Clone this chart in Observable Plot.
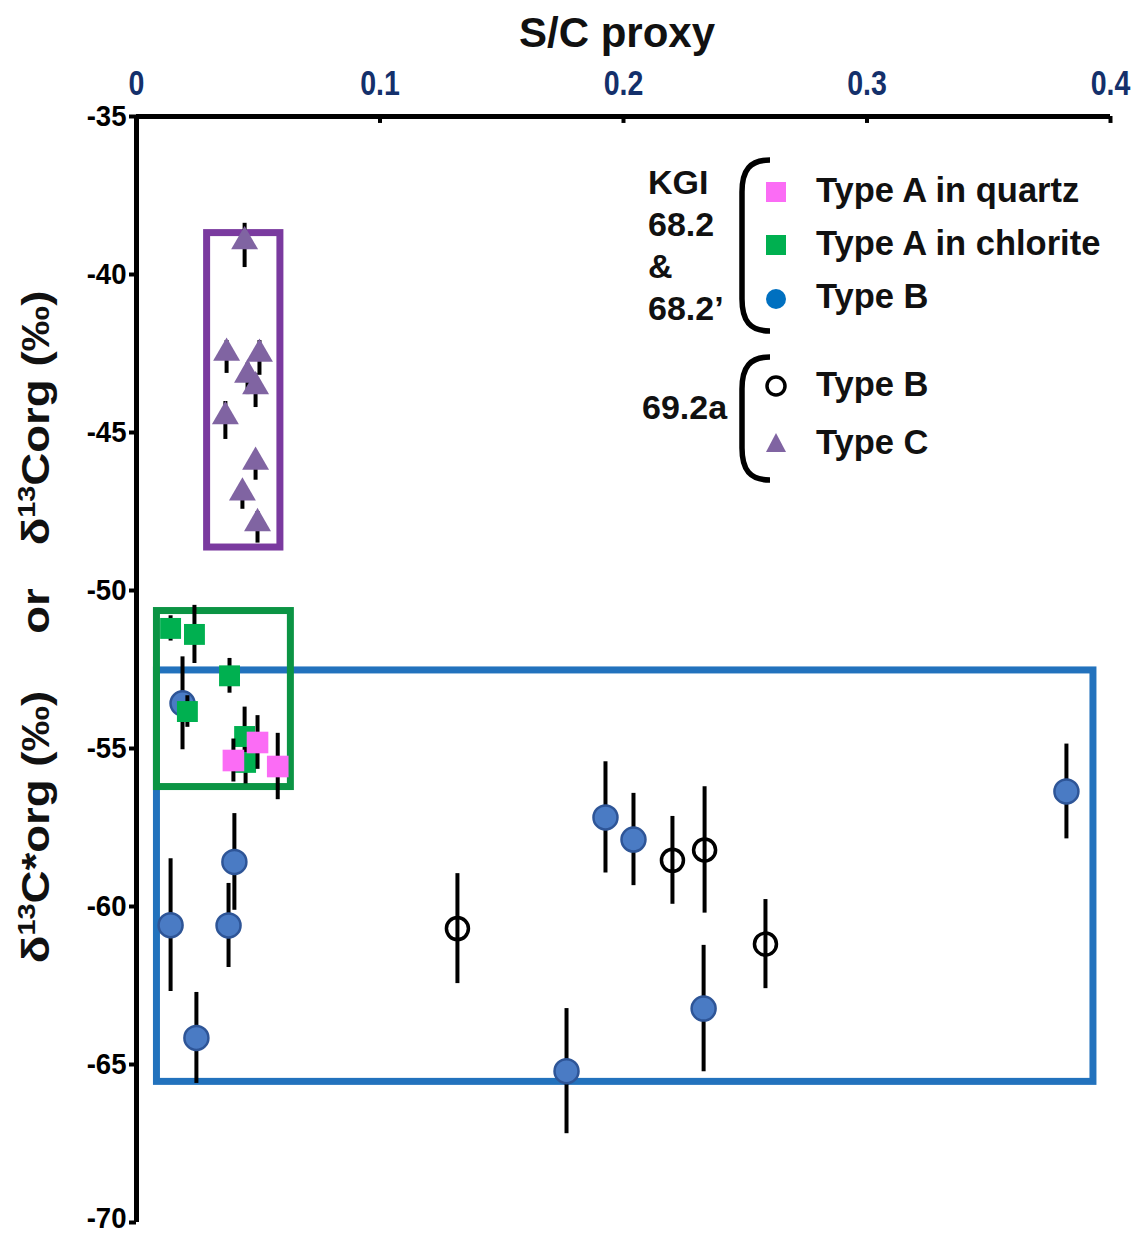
<!DOCTYPE html>
<html><head><meta charset="utf-8">
<script src="https://cdn.jsdelivr.net/npm/d3@7"></script>
<script src="https://cdn.jsdelivr.net/npm/@observablehq/plot@0.6"></script>
<style>
body{margin:0;background:#fff;}
#wrap{position:relative;width:1134px;height:1234px;font-family:"Liberation Sans",Arial,sans-serif;}
#wrap > svg{position:absolute;left:0;top:0;}
</style></head><body><div id="wrap"></div>
<script>
// ---- axis ticks ----
const xTicks = [0, 0.1, 0.2, 0.3, 0.4];
const yTicks = [-35, -40, -45, -50, -55, -60, -65, -70];

// ---- KGI 68.2 & 68.2' : Type B (filled circles) ----
const kgiB_x   = [0.0189, 0.0140, 0.0402, 0.0378, 0.0246, 0.1926, 0.2041, 0.2329, 0.1766, 0.3819];
const kgiB_y   = [-53.57, -60.59, -58.59, -60.60, -64.16, -57.18, -57.88, -63.23, -65.21, -56.36];
const kgiB_err = [1.47, 2.10, 1.53, 1.33, 1.44, 1.76, 1.46, 2.00, 1.98, 1.50];

// ---- KGI : Type A in chlorite (green squares) ----
const chl_x   = [0.0140, 0.0238, 0.0382, 0.0209, 0.0444, 0.0448];
const chl_y   = [-51.20, -51.39, -52.70, -53.83, -54.62, -55.44];
const chl_err = [0.40, 0.92, 0.55, 0.50, 0.93, 0.68];

// ---- KGI : Type A in quartz (pink squares) ----
const qtz_x   = [0.0497, 0.0398, 0.0580];
const qtz_y   = [-54.81, -55.38, -55.57];
const qtz_err = [0.85, 0.68, 1.05];

// ---- 69.2a : Type B (open circles) ----
const b692_x   = [0.1318, 0.2201, 0.2333, 0.2583];
const b692_y   = [-60.70, -58.54, -58.21, -61.19];
const b692_err = [1.74, 1.39, 2.00, 1.41];

// ---- 69.2a : Type C (triangles) ----
const c692_x   = [0.0444, 0.0370, 0.0505, 0.0456, 0.0489, 0.0365, 0.0489, 0.0435, 0.0497];
const c692_y   = [-39.08, -42.61, -42.64, -43.30, -43.67, -44.62, -46.06, -47.03, -48.00];
const c692_err = [0.70, 0.52, 0.55, 0.50, 0.54, 0.60, 0.45, 0.40, 0.50];

// ---- grouping boxes (data coordinates) ----
const boxNames = ["blue", "green", "purple"];
const boxX1 = [0.0084, 0.0084, 0.0290];
const boxX2 = [0.3930, 0.0634, 0.0591];
const boxY1 = [-65.55, -56.22, -48.64];
const boxY2 = [-52.53, -50.65, -38.69];

// ---- legend ----
const legendGroups = ["KGI\n68.2\n&\n68.2\u2019", "69.2a"];
const legendLabels = ["Type A in quartz", "Type A in chlorite", "Type B", "Type B", "Type C"];

const toRows = (xs, ys, es) => xs.map((x, i) => ({x, y: ys[i], lo: ys[i] - es[i], hi: ys[i] + es[i]}));
const kgiB = toRows(kgiB_x, kgiB_y, kgiB_err);
const chl = toRows(chl_x, chl_y, chl_err);
const qtz = toRows(qtz_x, qtz_y, qtz_err);
const b692 = toRows(b692_x, b692_y, b692_err);
const c692 = toRows(c692_x, c692_y, c692_err);
const boxes = boxNames.map((n, i) => ({n, x1: boxX1[i], x2: boxX2[i], y1: boxY1[i], y2: boxY2[i]}));
const boxColor = {blue: "#2272bd", green: "#0b9444", purple: "#7a3a9f"};

const bars = (rows) => Plot.ruleX(rows, {x: "x", y1: "lo", y2: "hi", stroke: "#000", strokeWidth: 4});

const chart = Plot.plot({
  width: 1134, height: 1234,
  marginLeft: 136, marginRight: 24, marginTop: 116, marginBottom: 12,
  x: {domain: [0, 0.4]},
  y: {domain: [-70, -35]},
  style: {fontFamily: "'Liberation Sans', Arial, sans-serif", background: "white", overflow: "visible"},
  marks: [
    Plot.rect(boxes, {x1: "x1", x2: "x2", y1: "y1", y2: "y2", fill: "none",
      stroke: d => boxColor[d.n], strokeWidth: 7}),
    Plot.axisX(xTicks, {anchor: "top", tickSize: 0, tickPadding: 22, fontSize: 31, fontWeight: "bold",
      fill: "#14306b", tickFormat: d => String(d), label: null}),
    Plot.axisY(yTicks, {anchor: "left", tickSize: 7, tickPadding: 3, fontSize: 29, fontWeight: "bold",
      strokeWidth: 4, tickFormat: d => String(d), label: null}),
    Plot.ruleX(xTicks, {x: d => d, y1: -35, y2: -35.22, stroke: "#000", strokeWidth: 4}),
    Plot.ruleX([0], {stroke: "#000", strokeWidth: 5}),
    Plot.ruleY([-35], {stroke: "#000", strokeWidth: 5}),
    bars(kgiB),
    Plot.dot(kgiB, {x: "x", y: "y", r: 12, fill: "#4a7bc4", stroke: "#2e5597", strokeWidth: 2.5}),
    bars(chl),
    Plot.dot(chl, {x: "x", y: "y", symbol: "square", r: 11.8, fill: "#00b050", stroke: "none"}),
    bars(qtz),
    Plot.dot(qtz, {x: "x", y: "y", symbol: "square", r: 12.2, fill: "#fb6cf5", stroke: "none"}),
    bars(b692),
    Plot.dot(b692, {x: "x", y: "y", r: 11, fill: "none", stroke: "#000", strokeWidth: 3.5}),
    bars(c692),
    Plot.dot(c692, {x: "x", y: "y", symbol: "triangle", r: 10, dy: -3.9, fill: "#8064a2", stroke: "none"})
  ]
});

const wrap = document.getElementById("wrap");
wrap.appendChild(chart);

// make tick labels a little taller and narrower, like the reference's condensed bold face
d3.select(chart).selectAll('g[aria-label="x-axis tick label"] text')
  .each(function() {
    const t = this.getAttribute("transform") || "";
    this.setAttribute("transform", t + " scale(0.92,1.15)");
  });
d3.select(chart).selectAll('g[aria-label="y-axis tick label"] text')
  .each(function() {
    const t = this.getAttribute("transform") || "";
    // the lowest label sits on the bottom edge: lift it slightly so it is not clipped
    const lift = this.textContent === String(yTicks[yTicks.length - 1]) ? " translate(0,-4)" : "";
    this.setAttribute("transform", t + lift + " scale(0.95,1.04)");
  });

// ---- overlay: titles and legend ----
const svg = d3.select(wrap).append("svg")
  .attr("width", 1134).attr("height", 1234)
  .style("pointer-events", "none")
  .attr("font-family", "'Liberation Sans', Arial, sans-serif")
  .attr("font-weight", "bold").attr("fill", "#111");

svg.append("text").attr("x", 617).attr("y", 47).attr("text-anchor", "middle")
  .attr("font-size", 42).text("S/C proxy");

// y-axis title, rotated (stretched along its length like the reference)
function deltaLabel(cy, rest) {
  const t = svg.append("text").attr("transform", `translate(49,${cy}) rotate(-90) scale(1.2,1)`)
    .attr("text-anchor", "middle").attr("font-size", 38);
  t.append("tspan").text("\u03b4");
  t.append("tspan").attr("font-size", 24).attr("dy", -14).text("13");
  t.append("tspan").attr("dy", 14).text(rest);
}
deltaLabel(827, "C*org (\u2030)");
svg.append("text").attr("transform", "translate(49,611) rotate(-90) scale(1.2,1)")
  .attr("text-anchor", "middle").attr("font-size", 38).text("or");
deltaLabel(418, "Corg (\u2030)");

// legend group labels
const g1 = svg.append("text").attr("font-size", 34);
legendGroups[0].split("\n").forEach((s, i) => g1.append("tspan").attr("x", 648).attr("y", 194 + i * 42).text(s));
svg.append("text").attr("font-size", 34).attr("x", 642).attr("y", 419).text(legendGroups[1]);

// braces
const brace = (top, bot) => `M770,${top} C750,${top} 742,${top + 10} 742,${top + 32} L742,${bot - 32} C742,${bot - 10} 750,${bot} 770,${bot}`;
svg.append("path").attr("d", brace(160, 331)).attr("fill", "none").attr("stroke", "#000").attr("stroke-width", 5.5);
svg.append("path").attr("d", brace(357, 480)).attr("fill", "none").attr("stroke", "#000").attr("stroke-width", 5.5);

// legend markers
svg.append("rect").attr("x", 766).attr("y", 182).attr("width", 20).attr("height", 20).attr("fill", "#fb6cf5");
svg.append("rect").attr("x", 766).attr("y", 235).attr("width", 20).attr("height", 20).attr("fill", "#00b050");
svg.append("circle").attr("cx", 776).attr("cy", 299).attr("r", 10).attr("fill", "#0070c0");
svg.append("circle").attr("cx", 776).attr("cy", 386).attr("r", 9).attr("fill", "none").attr("stroke", "#000").attr("stroke-width", 3.5);
svg.append("path").attr("d", "M776,433 L786,452 L766,452 Z").attr("fill", "#8064a2");

// legend texts
const ys = [202, 255, 308, 396, 454];
legendLabels.forEach((s, i) => svg.append("text").attr("x", 816).attr("y", ys[i]).attr("font-size", 34.5).text(s));
</script></body></html>
